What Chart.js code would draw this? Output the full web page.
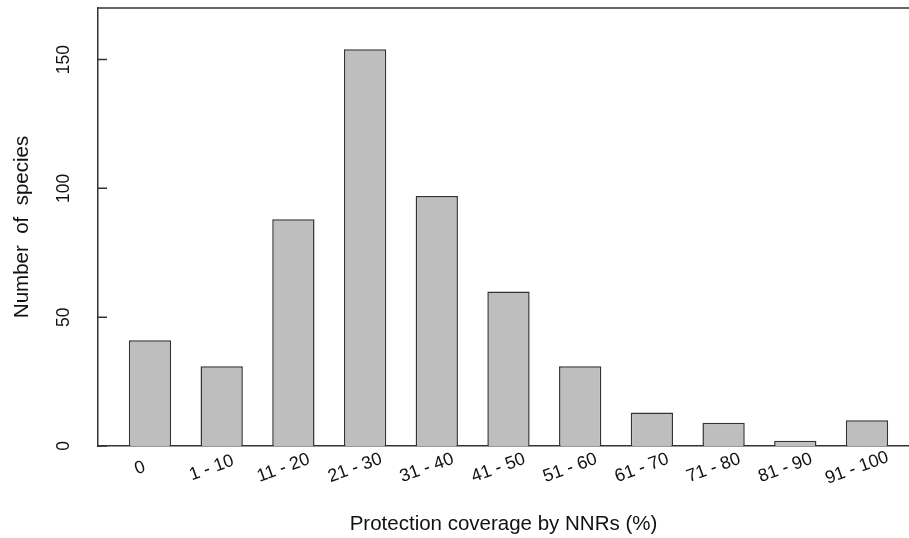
<!DOCTYPE html>
<html>
<head>
<meta charset="utf-8">
<script src="https://cdn.jsdelivr.net/npm/chart.js@4/dist/chart.umd.min.js"></script>
<style>
  html, body { margin: 0; padding: 0; background: #fff; }
  #wrap { width: 909px; height: 538px; }
</style>
</head>
<body>
<div id="wrap"><canvas id="chart"></canvas></div>
<script>
const categories = ["0","1 - 10","11 - 20","21 - 30","31 - 40","41 - 50","51 - 60","61 - 70","71 - 80","81 - 90","91 - 100"];
const speciesCounts = [41, 31, 88, 154, 97, 60, 31, 13, 9, 2, 10];
const yTicks = [0, 50, 100, 150];

Chart.defaults.font.family = '"Liberation Sans", Arial, sans-serif';
Chart.defaults.color = '#111';

// top edge of the box and inward y tick marks (R style)
const frameTop = {
    id: 'frameTop',
    afterDraw(chart) {
        const {ctx, chartArea} = chart;
        const yScale = chart.scales.y;
        ctx.save();
        ctx.strokeStyle = '#333';
        ctx.lineWidth = 1.5;
        ctx.beginPath();
        ctx.moveTo(chartArea.left, chartArea.top);
        ctx.lineTo(chartArea.right, chartArea.top);
        yTicks.forEach(v => {
            const py = yScale.getPixelForValue(v);
            ctx.moveTo(chartArea.left, py);
            ctx.lineTo(chartArea.left + 9, py);
        });
        ctx.stroke();
        ctx.restore();
    }
};

// rotated, centred category labels under each bar
const xLabels = {
    id: 'xLabels',
    afterDraw(chart) {
        const {ctx, chartArea} = chart;
        const xScale = chart.scales.x;
        ctx.save();
        ctx.font = '18px "Liberation Sans", Arial, sans-serif';
        ctx.fillStyle = '#111';
        ctx.textAlign = 'center';
        ctx.textBaseline = 'middle';
        categories.forEach((label, i) => {
            ctx.save();
            ctx.translate(xScale.getPixelForValue(i) - 10, chartArea.bottom + 22);
            ctx.rotate(-20 * Math.PI / 180);
            ctx.fillText(label, 0, 0);
            ctx.restore();
        });
        ctx.restore();
    }
};

let ctx = document.getElementById('chart').getContext('2d');
let myChart = new Chart(ctx, {
    type: 'bar',
    data: {
        datasets: [{
            data: categories.map((c, i) => ({x: i, y: speciesCounts[i]})),
            backgroundColor: '#bebebe',
            borderColor: '#333',
            borderWidth: 1.5,
            barPercentage: 0.59,
            categoryPercentage: 1
        }]
    },
    options: {
        responsive: true,
        maintainAspectRatio: false,
        animation: false,
        layout: {padding: {top: 8, right: 0, bottom: 0, left: 0}},
        plugins: {
            legend: {display: false},
            tooltip: {enabled: false}
        },
        scales: {
            x: {
                type: 'linear',
                offset: false,
                min: -0.725,
                max: 10.586,
                afterBuildTicks: (s) => { s.ticks = categories.map((c, i) => ({value: i})); },
                grid: {display: false, drawTicks: false, offset: false},
                border: {color: '#333', width: 1.5},
                ticks: {display: false},
                title: {
                    display: true,
                    text: 'Protection coverage by NNRs (%)',
                    font: {size: 20.5},
                    color: '#111',
                    padding: {top: 0, bottom: 1}
                },
                afterFit: (s) => { s.height = 92; }
            },
            y: {
                min: 0,
                max: 170,
                afterBuildTicks: (s) => { s.ticks = yTicks.map(v => ({value: v})); },
                grid: {display: false, drawTicks: false},
                border: {color: '#333', width: 1.5},
                ticks: {
                    minRotation: 90,
                    maxRotation: 90,
                    crossAlign: 'center',
                    padding: 19,
                    font: {size: 17.5},
                    color: '#111'
                },
                title: {
                    display: true,
                    text: 'Number  of  species',
                    font: {size: 20.5},
                    color: '#111',
                    padding: {top: 10, bottom: 0}
                },
                afterFit: (s) => {
                    s.width = 98;
                    s.paddingTop = 0;
                    s.paddingBottom = 0;
                }
            }
        }
    },
    plugins: [frameTop, xLabels]
});
</script>
</body>
</html>
